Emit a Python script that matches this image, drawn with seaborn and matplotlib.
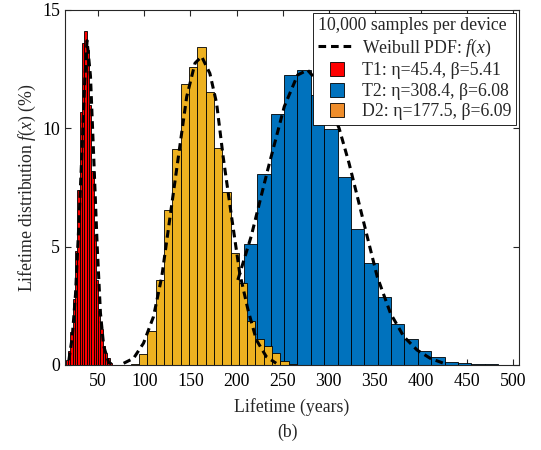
import numpy as np
import pandas as pd
import matplotlib
matplotlib.use('Agg')
import matplotlib.pyplot as plt
import seaborn as sns
from matplotlib.lines import Line2D

# --- data -----------------------------------------------------------------
# histogram bins (years) and bar heights (% of the 10,000 samples per bin)
t1_first_edge, t1_bin_width = 15.0, 2.5
t1_pct = [0.2, 0.6, 1.4, 2.8, 4.8, 7.4, 10.7, 13.6, 14.1, 13.3,
          11.0, 8.2, 5.5, 3.6, 2.3, 1.5, 0.8, 0.5, 0.3, 0.1]

t2_first_edge, t2_bin_width = 135.5, 14.5
t2_pct = [0.05, 0.15, 0.5, 1.4, 3.2, 5.11, 8.07, 10.59, 12.25, 12.44,
          11.4, 9.97, 7.92, 5.73, 4.30, 2.86, 1.73, 1.08, 0.61, 0.32,
          0.14, 0.07, 0.04, 0.03, 0.01]

d2_first_edge, d2_bin_width = 85.5, 9.0
d2_pct = [0.03, 0.45, 1.44, 3.58, 6.53, 9.14, 11.86, 12.6, 13.45, 11.52,
          9.15, 7.30, 4.75, 3.45, 1.85, 1.11, 0.80, 0.50, 0.15, 0.05]

# dashed Weibull PDF curves
t1_pdf_x = [18.3, 22.0, 25.5, 29.0, 32.7, 35.5, 38.0, 41.7, 45.3, 49.0, 52.5, 56.0, 61.4, 66.9]
t1_pdf_y = [0.2, 1.2, 3.0, 5.85, 9.2, 12.0, 13.7, 12.2, 8.7, 5.0, 2.2, 0.8, 0.1, 0.0]

d2_pdf_x = [77.6, 88.4, 99.2, 110.0, 119.0, 128.0, 137.0, 146.0, 155.0, 162.2,
            171.1, 178.4, 185.5, 194.6, 203.5, 212.5, 221.5, 232.3, 243.0]
d2_pdf_y = [0.07, 0.28, 0.92, 2.04, 3.73, 6.27, 8.8, 11.33, 12.75, 13.03,
            12.32, 11.06, 8.8, 6.27, 3.87, 2.32, 1.06, 0.35, 0.07]

t2_pdf_x = [201.4, 215.8, 233.8, 251.8, 266.2, 277.0, 292.0, 311.2, 322.0, 331.0,
            341.7, 352.5, 366.9, 381.3, 395.7, 410.0, 424.5]
t2_pdf_y = [3.59, 5.42, 8.24, 10.92, 12.25, 12.46, 11.8, 10.0, 8.52, 7.11,
            5.42, 3.73, 2.18, 1.20, 0.63, 0.28, 0.07]

devices = ['T1', 'T2', 'D2']
etas = [45.4, 308.4, 177.5]
betas = [5.41, 6.08, 6.09]
bar_colors = {'T1': '#FF0000', 'T2': '#0072BD', 'D2': '#EDB120'}
legend_colors = {'T1': '#FF0000', 'T2': '#0072BD', 'D2': '#EF8D2B'}


def hist_frame(first_edge, width, pct):
    n = len(pct)
    edges = first_edge + width * np.arange(n + 1)
    centers = edges[:-1] + width / 2
    return pd.DataFrame({'lifetime': centers, 'pct': pct}), edges.tolist()


FS = 12.8
sns.set_style('ticks')
plt.rcParams['font.family'] = ['Liberation Serif', 'DejaVu Serif']
plt.rcParams['mathtext.fontset'] = 'custom'
plt.rcParams['mathtext.rm'] = 'Liberation Serif'
plt.rcParams['mathtext.it'] = 'Liberation Serif:italic'
plt.rcParams['font.size'] = FS

fig = plt.figure(figsize=(5.41, 4.5), dpi=100)
ax = fig.add_axes([0.120, 0.189, 0.839, 0.789])

#%% histograms (T2 first so the D2 bars sit on top of it)
hists = {'T1': (t1_first_edge, t1_bin_width, t1_pct),
         'T2': (t2_first_edge, t2_bin_width, t2_pct),
         'D2': (d2_first_edge, d2_bin_width, d2_pct)}
for dev in ['T1', 'T2', 'D2']:
    df, edges = hist_frame(*hists[dev])
    sns.histplot(data=df, x='lifetime', weights='pct', bins=edges, ax=ax,
                 color=bar_colors[dev], edgecolor='black', linewidth=0.6,
                 alpha=1, stat='count')

#%% Weibull curves
dash = (0, (2.5, 1.6))
for xs, ys in [(t1_pdf_x, t1_pdf_y), (d2_pdf_x, d2_pdf_y), (t2_pdf_x, t2_pdf_y)]:
    sns.lineplot(x=xs, y=ys, ax=ax, color='black', linewidth=2.2,
                 linestyle=dash, sort=False)

ax.set_xlim(14, 506)
ax.set_ylim(0, 15)
ax.set_xticks(range(50, 501, 50))
ax.set_yticks([0, 5, 10, 15])
ax.tick_params(direction='in', top=True, right=True, length=4, width=0.8,
               labelsize=FS, colors='#262626', labelcolor='black')
ax.tick_params(axis='x', pad=5.5)
for sp in ax.spines.values():
    sp.set_linewidth(0.8)
    sp.set_color('#262626')
    sp.set_visible(True)

ax.set_xlabel('Lifetime (years)', fontsize=FS, labelpad=6)
ax.set_ylabel('Lifetime distribution $f(x)$ (%)', fontsize=FS, labelpad=3)
fig.text(0.532, 0.04, '(b)', ha='center', va='center', fontsize=FS)

#%% legend
handles = [Line2D([0], [0], color='black', lw=2.2, ls=dash)]
labels = ['Weibull PDF: $f(x)$']
for dev, eta, beta in zip(devices, etas, betas):
    handles.append(Line2D([0], [0], marker='s', ls='none', markersize=10,
                          markerfacecolor=legend_colors[dev],
                          markeredgecolor='black', markeredgewidth=0.6))
    labels.append(f'{dev}: η={eta}, β={beta}')
leg = ax.legend(handles, labels, title='10,000 samples per device',
                loc='upper right', borderaxespad=0.15, fancybox=False,
                edgecolor='black', framealpha=1, handlelength=2.1,
                handletextpad=0.4, labelspacing=0.2, borderpad=0.25,
                fontsize=FS, title_fontsize=FS, alignment='left')
leg.get_frame().set_linewidth(0.6)

fig.savefig('out.png', dpi=100)
